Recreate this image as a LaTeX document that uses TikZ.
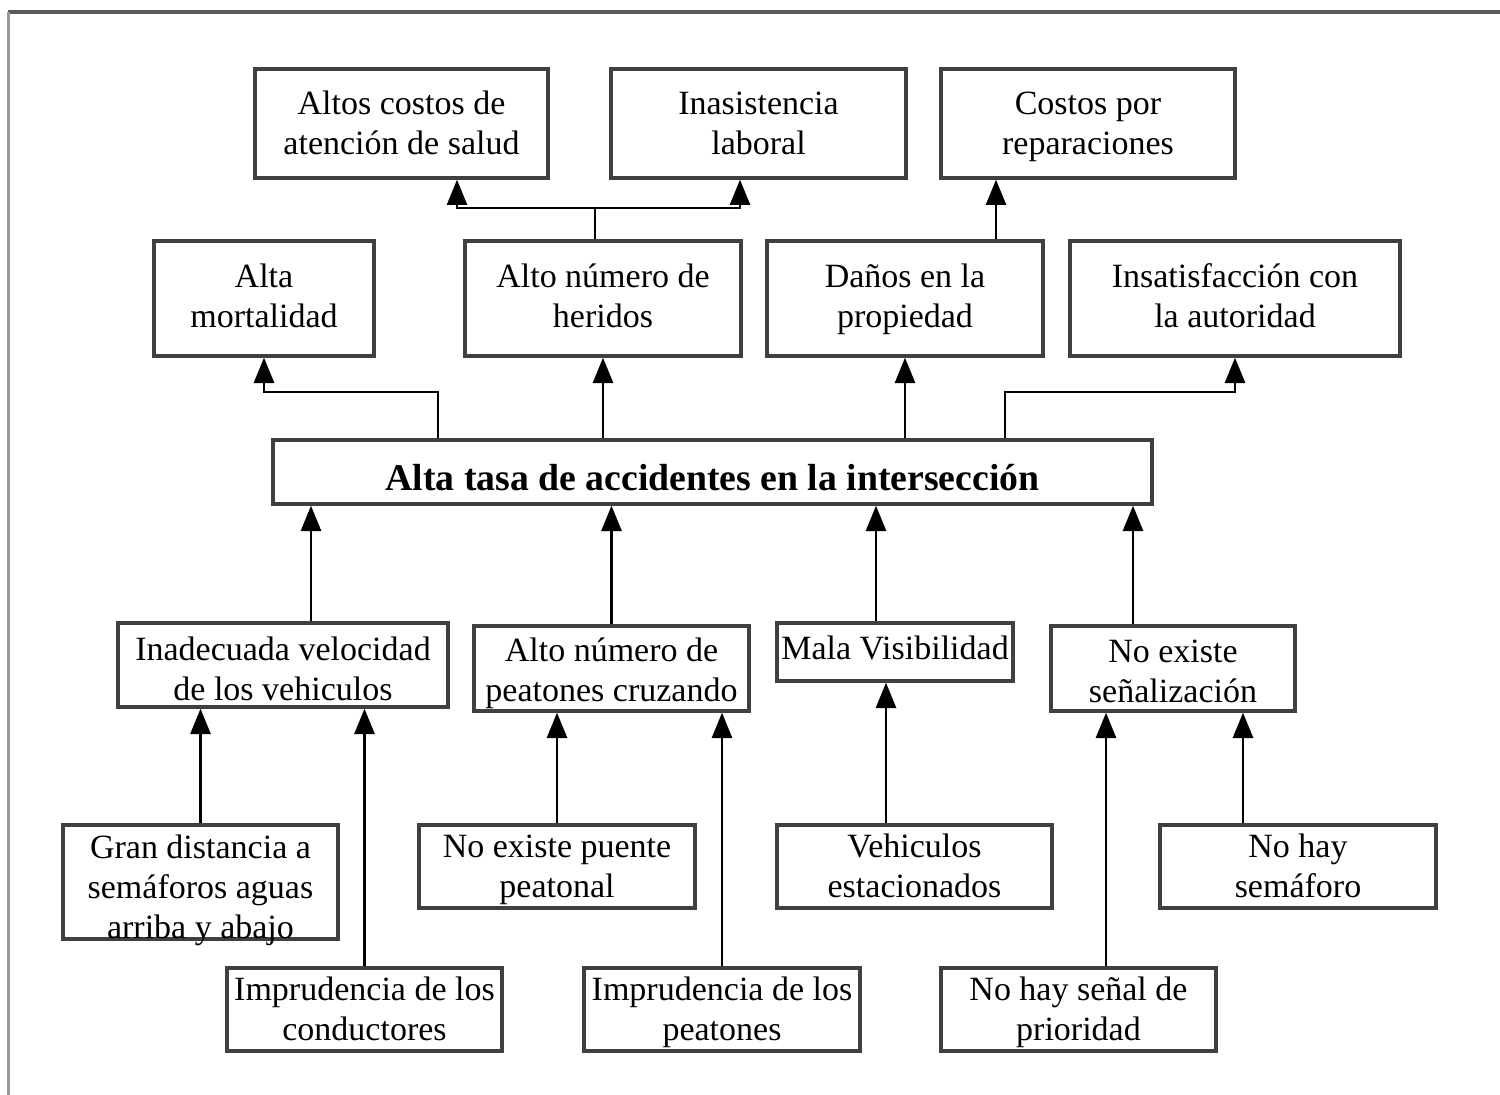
\documentclass[tikz,border=0pt]{standalone}
\usepackage{fontspec}
\setmainfont{Liberation Serif}
\usetikzlibrary{arrows.meta}

\tikzset{
  box/.style={draw=black!75, line width=2.5pt, fill=white, inner xsep=0pt, inner ysep=1pt, align=flush center, font=\fontsize{25.5}{30}\selectfont},
  sink/.style 2 args={execute at begin node={\noindent\rule{0pt}{#1}}, execute at end node={\rule[-#2]{0pt}{#2}}},
  wire/.style={draw=black, line width=2pt},
  arr/.style={wire, -{Triangle[length=19pt,width=15pt]}}
}

\begin{document}
\begin{tikzpicture}[x=0.75pt,y=0.75pt,yscale=-1,xscale=1]
\useasboundingbox (0,0) rectangle (1500,1095);

%frame
\draw [color=black!65, line width=3pt] (8,12) -- (1500,12);
\draw [color=black!40, line width=2.25pt] (8,12) -- (8,1095);

%effects
\draw (401.5,123.5) node [box, sink={23.6pt}{6.4pt}, text width=219.75pt, minimum height=81.75pt] (salud) {Altos costos de\\atención de salud};
\draw (758.5,123.5) node [box, sink={23.6pt}{6.4pt}, text width=221.25pt, minimum height=81.75pt] (laboral) {Inasistencia\\laboral};
\draw (1088,123.5) node [box, sink={23.6pt}{6.4pt}, text width=220.5pt, minimum height=81.75pt] (repar) {Costos por\\reparaciones};

\draw (264,298.5) node [box, sink={21.4pt}{8.6pt}, text width=165pt, minimum height=86.25pt] (mortal) {Alta\\mortalidad};
\draw (603,298.5) node [box, sink={21.4pt}{8.6pt}, text width=207pt, minimum height=86.25pt] (heridos) {Alto número de\\heridos};
\draw (905,298.5) node [box, sink={21.4pt}{8.6pt}, text width=207pt, minimum height=86.25pt] (danos) {Daños en la\\propiedad};
\draw (1235,298.5) node [box, sink={21.4pt}{8.6pt}, text width=247.5pt, minimum height=86.25pt] (insat) {Insatisfacción con\\la autoridad};

%problem
\draw (712.5,472) node [box, sink={33pt}{5.7pt}, text width=659.25pt, minimum height=48pt, font=\fontsize{28.3}{32}\bfseries] (central) {Alta tasa de accidentes en la intersección};

%causes
\draw (283,665) node [box, sink={26.25pt}{3.75pt}, text width=247.5pt, minimum height=63pt] (veloc) {Inadecuada velocidad\\de los vehiculos};
\draw (611.5,668.5) node [box, sink={25.5pt}{4.5pt}, text width=206.25pt, minimum height=63.75pt] (peatones) {Alto número de\\peatones cruzando};
\draw (895,652) node [box, sink={20.25pt}{9.75pt}, text width=177pt, minimum height=43.5pt] (visib) {Mala Visibilidad};
\draw (1173,668.5) node [box, sink={25.5pt}{4.5pt}, text width=183pt, minimum height=63.75pt] (senal) {No existe\\señalización};

\draw (200.5,882) node [box, sink={29.5pt}{0pt}, inner ysep=-5pt, text width=206.25pt, minimum height=85.5pt] (gran) {Gran distancia a\\semáforos aguas\\arriba y abajo};
\draw (557,866.5) node [box, sink={23.6pt}{6.4pt}, text width=207pt, minimum height=62.25pt] (puente) {No existe puente\\peatonal};
\draw (914.5,866.5) node [box, sink={23.6pt}{6.4pt}, text width=206.25pt, minimum height=62.25pt] (vehic) {Vehiculos\\estacionados};
\draw (1298,866.5) node [box, sink={23.6pt}{6.4pt}, text width=207pt, minimum height=62.25pt] (semaf) {No hay\\semáforo};
\draw (364.5,1009.5) node [box, sink={23.6pt}{6.4pt}, text width=206.25pt, minimum height=62.25pt] (conduct) {Imprudencia de los\\conductores};
\draw (722,1009.5) node [box, sink={23.6pt}{6.4pt}, text width=207pt, minimum height=62.25pt] (imprpeat) {Imprudencia de los\\peatones};
\draw (1078.5,1009.5) node [box, sink={23.6pt}{6.4pt}, text width=206.25pt, minimum height=62.25pt] (priori) {No hay señal de\\prioridad};

%turning points
\coordinate (km) at (438,392);
\coordinate (ki) at (1005,392);
\coordinate (kh) at (595,208);
\coordinate (ks) at (457,208);
\coordinate (kl) at (740,208);
\coordinate (kd) at (996,208);
\coordinate (k1) at (311,560);
\coordinate (k3) at (876,560);
\coordinate (k4) at (1133,560);
\coordinate (k5) at (886,760);
\coordinate (k6) at (1106,760);
\coordinate (k7) at (1243,760);

%connectors up to the effects
\draw [arr] (central.north -| km) -- (km) -| (mortal.south);
\draw [arr] (central.north -| heridos.south) -- (heridos.south);
\draw [arr] (central.north -| danos.south) -- (danos.south);
\draw [arr] (central.north -| ki) -- (ki) -| (insat.south);
\draw [arr] (heridos.north -| kh) -- (kh) -| (salud.south -| ks);
\draw [arr] (kh) -| (laboral.south -| kl);
\draw [arr] (danos.north -| kd) -- (repar.south -| kd);

%connectors up from the causes
\draw [arr] (veloc.north -| k1) -- (central.south -| k1);
\draw [arr] (peatones.north) -- (central.south -| peatones.north);
\draw [arr] (visib.north -| k3) -- (central.south -| k3);
\draw [arr] (senal.north -| k4) -- (central.south -| k4);

\draw [arr] (gran.north) -- (veloc.south -| gran.north);
\draw [arr] (conduct.north) -- (veloc.south -| conduct.north);
\draw [arr] (puente.north) -- (peatones.south -| puente.north);
\draw [arr] (imprpeat.north) -- (peatones.south -| imprpeat.north);
\draw [arr] (vehic.north -| k5) -- (visib.south -| k5);
\draw [arr] (priori.north -| k6) -- (senal.south -| k6);
\draw [arr] (semaf.north -| k7) -- (senal.south -| k7);

\end{tikzpicture}
\end{document}
